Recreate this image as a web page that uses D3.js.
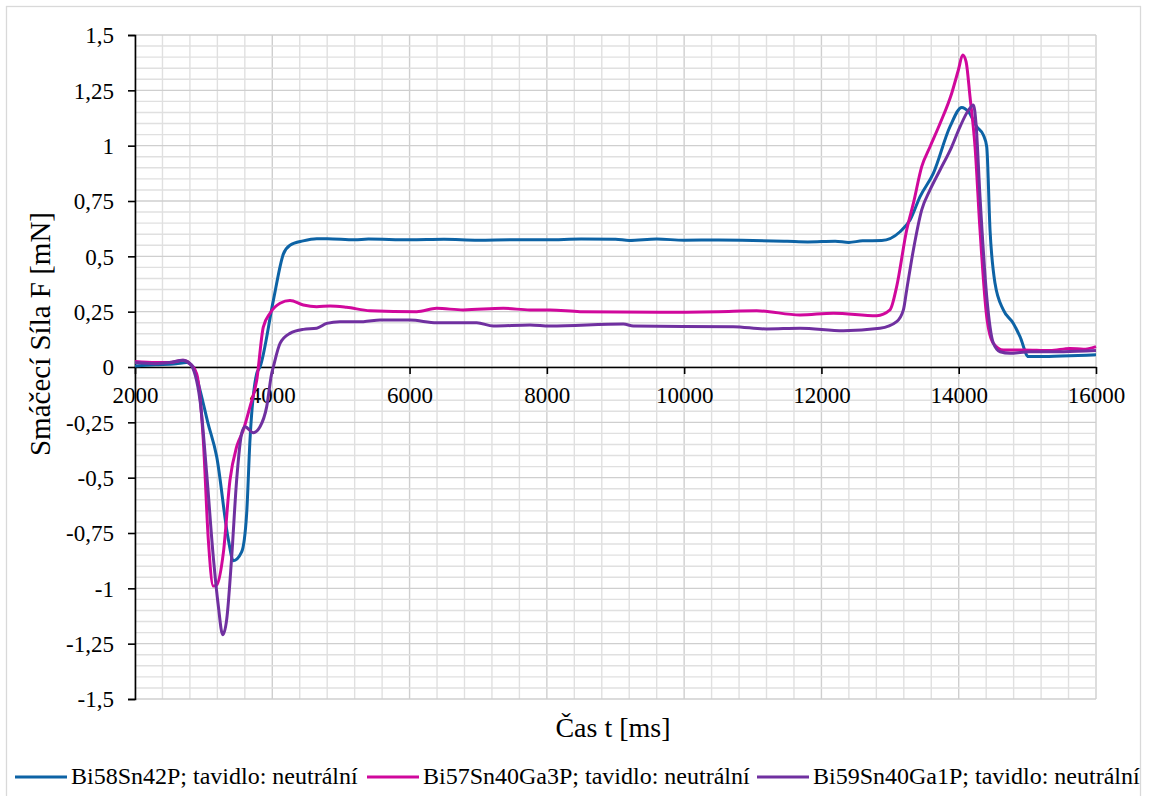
<!DOCTYPE html>
<html><head><meta charset="utf-8">
<script src="https://cdn.jsdelivr.net/npm/d3@7"></script>
<style>body{margin:0;background:#fff}svg{display:block}svg text{font-family:"Liberation Serif","Times New Roman",serif !important;fill:#000}</style>
</head><body><svg id="c" width="1152" height="796"></svg>
<script>
const seriesNames = ["Bi58Sn42P; tavidlo: neutrální","Bi57Sn40Ga3P; tavidlo: neutrální","Bi59Sn40Ga1P; tavidlo: neutrální"];
const seriesColors = ["#0d63a5","#d0089c","#7030a0"];
const xTicks = [2000,4000,6000,8000,10000,12000,14000,16000];
const yTicks = [-1.5,-1.25,-1,-0.75,-0.5,-0.25,0,0.25,0.5,0.75,1,1.25,1.5];

const blue = [[2000,0.005],[2300,0.01],[2600,0.015],[2750,0.02],[2850,0.0],[2947,-0.104],[3060,-0.25],[3190,-0.405],[3360,-0.78],[3432,-0.875],[3554,-0.835],[3627,-0.66],[3675,-0.33],[3773,-0.03],[3821,0.0],[4015,0.3],[4161,0.51],[4258,0.55],[4450,0.57],[4647,0.58],[4800,0.58],[5200,0.575],[5400,0.578],[6000,0.575],[6500,0.577],[7000,0.573],[7500,0.575],[8000,0.575],[8500,0.578],[9000,0.577],[9200,0.572],[9600,0.578],[10000,0.573],[10500,0.574],[11000,0.572],[11500,0.568],[11800,0.565],[12200,0.568],[12400,0.563],[12600,0.57],[12878,0.571],[13145,0.611],[13291,0.664],[13437,0.77],[13630,0.875],[13873,1.086],[14044,1.173],[14140,1.154],[14262,1.086],[14359,1.048],[14408,0.995],[14456,0.62],[14529,0.378],[14650,0.258],[14796,0.197],[14893,0.137],[15015,0.047],[15136,0.047],[15500,0.05],[16000,0.055]];
const magenta = [[2000,0.025],[2300,0.02],[2500,0.02],[2700,0.03],[2800,0.015],[2898,-0.03],[2995,-0.33],[3068,-0.78],[3141,-0.99],[3190,-0.985],[3287,-0.84],[3384,-0.51],[3481,-0.36],[3578,-0.285],[3675,-0.18],[3773,-0.06],[3869,0.18],[3967,0.243],[4113,0.288],[4258,0.3],[4452,0.28],[4647,0.272],[4841,0.276],[5083,0.27],[5424,0.254],[6104,0.25],[6395,0.265],[6783,0.258],[7366,0.265],[7754,0.258],[8046,0.258],[8483,0.25],[9649,0.247],[10500,0.25],[11057,0.254],[11688,0.235],[12174,0.243],[12806,0.232],[12999,0.258],[13096,0.363],[13242,0.619],[13340,0.74],[13461,0.905],[13582,0.995],[13728,1.1],[13898,1.237],[13995,1.342],[14058,1.41],[14107,1.38],[14165,1.22],[14238,0.995],[14310,0.62],[14408,0.227],[14505,0.107],[14650,0.077],[14941,0.077],[15330,0.074],[15622,0.084],[15816,0.08],[16000,0.092]];
const purple = [[2000,0.02],[2300,0.015],[2500,0.02],[2700,0.03],[2800,0.015],[2947,-0.15],[3044,-0.48],[3141,-0.86],[3214,-1.08],[3278,-1.21],[3336,-1.14],[3408,-0.86],[3481,-0.51],[3554,-0.3],[3603,-0.27],[3724,-0.297],[3821,-0.27],[3918,-0.18],[3991,-0.03],[4015,0.0],[4113,0.107],[4258,0.152],[4452,0.17],[4647,0.175],[4793,0.197],[4986,0.205],[5326,0.205],[5569,0.212],[6006,0.212],[6395,0.2],[6978,0.2],[7220,0.185],[7754,0.19],[8046,0.185],[9114,0.194],[9260,0.185],[10717,0.182],[11202,0.172],[11688,0.175],[12320,0.164],[12853,0.175],[13096,0.205],[13194,0.258],[13242,0.348],[13340,0.53],[13461,0.71],[13582,0.8],[13728,0.89],[13898,0.995],[14020,1.086],[14141,1.16],[14214,1.184],[14252,1.1],[14310,0.77],[14408,0.318],[14505,0.107],[14602,0.069],[14748,0.062],[15039,0.069],[15525,0.069],[16000,0.074]];
const seriesData = [blue, magenta, purple];

const svg = d3.select("#c");
const L=135, R=1096, T=35, B=699;
const x = d3.scaleLinear().domain([2000,16000]).range([L,R]);
const y = d3.scaleLinear().domain([-1.5,1.5]).range([B,T]);
const fmt = d => String(d).replace(".", ",");
const SERIF = "'Liberation Serif','Times New Roman',serif";

svg.append("rect").attr("x",6.5).attr("y",6.5).attr("width",1134).attr("height",800).attr("fill","none").attr("stroke","#d9d9d9").attr("stroke-width",1.3);

const g = svg.append("g");
d3.range(2000,16001,400).forEach(v=>{
  g.append("line").attr("x1",x(v)).attr("x2",x(v)).attr("y1",T).attr("y2",B)
   .attr("stroke", v%2000===0 ? "#cfcfcf":"#e0e0e0").attr("stroke-width",1.4);
});
d3.range(-30,31,1).forEach(k=>{
  const v=k*0.05;
  g.append("line").attr("x1",L).attr("x2",R).attr("y1",y(v)).attr("y2",y(v))
   .attr("stroke", k%5===0 ? "#cfcfcf":"#e0e0e0").attr("stroke-width",1.4);
});

const ya = svg.append("g").attr("transform",`translate(${L},0)`)
  .call(d3.axisLeft(y).tickValues(yTicks).tickFormat(fmt).tickSize(7).tickPadding(14));
ya.attr("font-family",SERIF);
ya.select(".domain").attr("stroke","#000").attr("stroke-width",1.6);
ya.selectAll(".tick line").attr("stroke","#000").attr("stroke-width",1.6);
ya.selectAll("text").attr("font-size",23).attr("dy","0.34em").style("font-family",SERIF);

const xa = svg.append("g").attr("transform",`translate(0,${y(0)})`)
  .call(d3.axisBottom(x).tickValues(xTicks).tickFormat(d=>d).tickSize(7).tickPadding(13).tickSizeOuter(0));
xa.attr("font-family",SERIF);
xa.select(".domain").attr("stroke","#000").attr("stroke-width",1.6);
xa.selectAll(".tick line").attr("stroke","#000").attr("stroke-width",1.6);
xa.selectAll("text").attr("font-size",23).style("font-family",SERIF);

const line = d3.line().x(d=>x(d[0])).y(d=>y(d[1])).curve(d3.curveMonotoneX);
seriesData.forEach((s,i)=>{
  svg.append("path").datum(s).attr("d",line).attr("fill","none")
    .attr("stroke",seriesColors[i]).attr("stroke-width",3).attr("stroke-linejoin","round");
});

svg.append("text").attr("x",613).attr("y",737).attr("text-anchor","middle").attr("font-size",28).style("font-family",SERIF).text("Čas t [ms]");
svg.append("text").attr("transform",`translate(50,334) rotate(-90)`).attr("text-anchor","middle").attr("font-size",29).style("font-family",SERIF).text("Smáčecí Síla F [mN]");

const legX = [15, 367, 757];
seriesNames.forEach((n,i)=>{
  svg.append("line").attr("x1",legX[i]).attr("x2",legX[i]+52).attr("y1",777).attr("y2",777)
    .attr("stroke",seriesColors[i]).attr("stroke-width",3);
  svg.append("text").attr("x",legX[i]+56).attr("y",784).attr("font-size",24).style("font-family",SERIF).text(n);
});
</script></body></html>
